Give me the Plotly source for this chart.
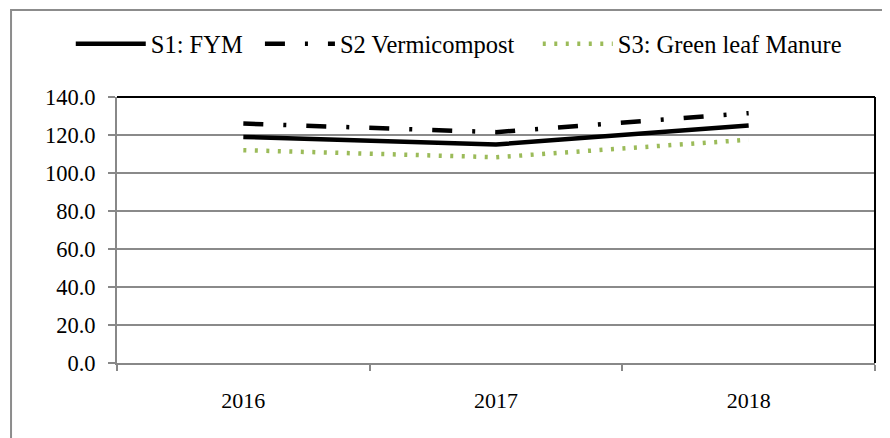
import plotly.graph_objects as go

years = ["2016", "2017", "2018"]
s1_fym = [119.0, 115.0, 125.0]
s2_vermi = [126.0, 121.5, 131.5]
s3_green = [112.0, 108.3, 117.5]
y_ticks = [0, 20, 40, 60, 80, 100, 120, 140]
series_names = ["S1: FYM", "S2 Vermicompost", "S3: Green leaf Manure"]

FONT = "Liberation Serif"
NB = "\u00a0"

fig = go.Figure()
fig.add_trace(go.Scatter(x=years, y=s1_fym, mode="lines", name=series_names[0] + NB * 2,
                         line=dict(color="black", width=4.5)))
fig.add_trace(go.Scatter(x=years, y=s2_vermi, mode="lines", name=series_names[1] + NB * 3,
                         line=dict(color="black", width=4.5, dash="20px,20px,3px,20px")))
fig.add_trace(go.Scatter(x=years, y=s3_green, mode="lines", name=series_names[2],
                         line=dict(color="#9BBB59", width=4.5, dash="3px,8.5px")))

fig.update_layout(
    width=882, height=430,
    margin=dict(l=109, r=15, t=89, b=75),
    paper_bgcolor="white", plot_bgcolor="white",
    font=dict(family=FONT, size=22, color="black"),
    showlegend=True,
    legend=dict(orientation="h", x=-0.061, xanchor="left", y=1.2, yanchor="middle",
                font=dict(family=FONT, size=24.5), itemwidth=70,
                bgcolor="rgba(0,0,0,0)", tracegroupgap=0),
    xaxis=dict(type="category", range=[-0.5, 2.5], tickson="boundaries", ticks="outside",
               ticklen=6, tickcolor="#888888", tickwidth=1.5, showline=True,
               linecolor="#888888", linewidth=2, showgrid=False, ticklabelstandoff=17,
               zeroline=False, tickfont=dict(family=FONT, size=22)),
    yaxis=dict(range=[0, 140], tickvals=y_ticks, tickformat=".1f", ticks="outside",
               ticklen=7, tickcolor="#888888", tickwidth=1.5, showline=True,
               linecolor="#888888", linewidth=2, showgrid=True, gridcolor="#8a8a8a",
               gridwidth=1.5, zeroline=False, ticklabelstandoff=8,
               tickfont=dict(family=FONT, size=22.5)),
)

# plot-area border (top & right black)
fig.add_shape(type="line", xref="x domain", yref="y domain", x0=0, x1=1, y0=1, y1=1,
              line=dict(color="black", width=2))
fig.add_shape(type="line", xref="x domain", yref="y domain", x0=1, x1=1, y0=0, y1=1,
              line=dict(color="black", width=2))
# outer chart frame
fig.add_shape(type="rect", xref="paper", yref="paper", x0=-0.1398, x1=1.2, y0=-0.6, y1=1.327,
              line=dict(color="#8c8c8c", width=2), layer="below")

fig.write_html("out.html")
